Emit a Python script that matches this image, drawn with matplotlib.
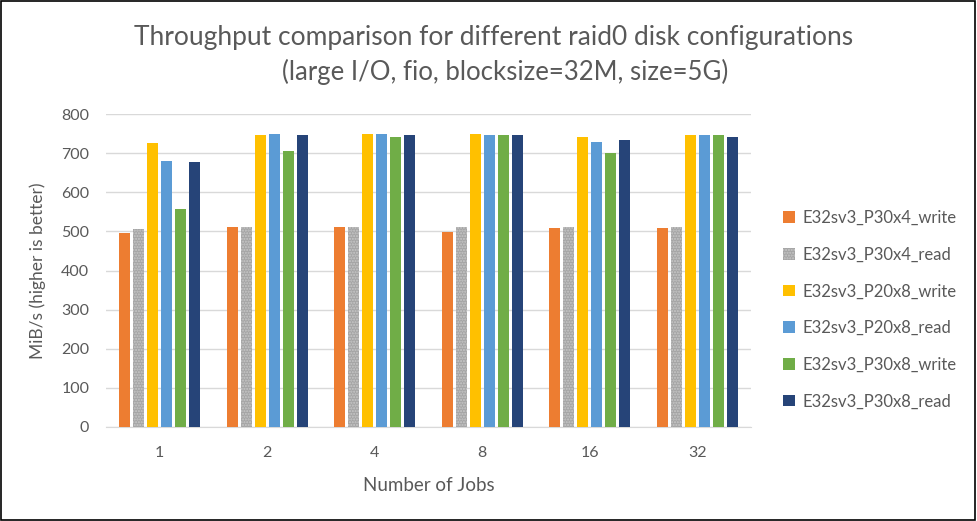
import matplotlib
matplotlib.use("Agg")
import matplotlib.pyplot as plt
import numpy as np

plt.rcParams['font.family'] = ['Lato', 'DejaVu Sans']

jobs = ["1", "2", "4", "8", "16", "32"]
series = [
    "E32sv3_P30x4_write",
    "E32sv3_P30x4_read",
    "E32sv3_P20x8_write",
    "E32sv3_P20x8_read",
    "E32sv3_P30x8_write",
    "E32sv3_P30x8_read",
]
p30x4_write = [497, 511, 511, 498, 509, 509]
p30x4_read = [507, 511, 511, 511, 511, 511]
p20x8_write = [726, 747, 749, 749, 741, 747]
p20x8_read = [680, 749, 749, 747, 729, 747]
p30x8_write = [557, 705, 741, 747, 701, 747]
p30x8_read = [677, 747, 747, 747, 734, 741]
values = [p30x4_write, p30x4_read, p20x8_write, p20x8_read, p30x8_write, p30x8_read]
colors = ["#ED7D31", "#A5A5A5", "#FFC000", "#5B9BD5", "#70AD47", "#264478"]

text_col = "#595959"

fig = plt.figure(figsize=(9.77, 5.21), dpi=100)
ax = fig.add_axes([106 / 977, 94 / 521, 645 / 977, 313 / 521])

x = np.arange(len(jobs))
step = 0.13
width = 0.102
for i, (name, vals, c) in enumerate(zip(series, values, colors)):
    offs = (i - 2.5) * step
    if i == 1:
        ax.bar(x + offs, vals, width, color=c, label=name, hatch="......",
               edgecolor="#C8C8C8", linewidth=0, zorder=3)
    else:
        ax.bar(x + offs, vals, width, color=c, label=name, linewidth=0, zorder=3)

ax.set_xlim(-0.5, len(jobs) - 0.5)
ax.set_ylim(0, 800)
ax.set_yticks(range(0, 801, 100))
ax.set_xticks(x)
ax.set_xticklabels(jobs)
ax.grid(axis="y", color="#D9D9D9", linewidth=1, zorder=0)
for s in ["top", "right", "left"]:
    ax.spines[s].set_visible(False)
ax.spines["bottom"].set_color("#D9D9D9")
ax.tick_params(length=0, labelsize=11.5, colors=text_col)
ax.tick_params(axis="y", pad=12)
ax.tick_params(axis="x", pad=14)

ax.set_xlabel("Number of Jobs", fontsize=13.5, color=text_col, labelpad=12)
ax.set_ylabel("MiB/s (higher is better)", fontsize=12.5, color=text_col, labelpad=11)

fig.text(494 / 977, 1 - 38 / 521, "Throughput comparison for different raid0 disk configurations",
         ha="center", va="center", fontsize=19, color=text_col)
fig.text(505 / 977, 1 - 72 / 521, "(large I/O, fio, blocksize=32M, size=5G)",
         ha="center", va="center", fontsize=18.5, color=text_col)

leg = fig.legend(loc="upper left", bbox_to_anchor=(768 / 977, 1 - 195 / 521),
                 frameon=False, fontsize=12, labelcolor=text_col,
                 handlelength=0.7, handleheight=0.7, handletextpad=0.5,
                 labelspacing=1.24)

fig.add_artist(plt.Rectangle((0.001, 0.002), 0.997, 0.996, transform=fig.transFigure,
                             fill=False, edgecolor="black", linewidth=1.2))

fig.savefig("out.png", dpi=100)
